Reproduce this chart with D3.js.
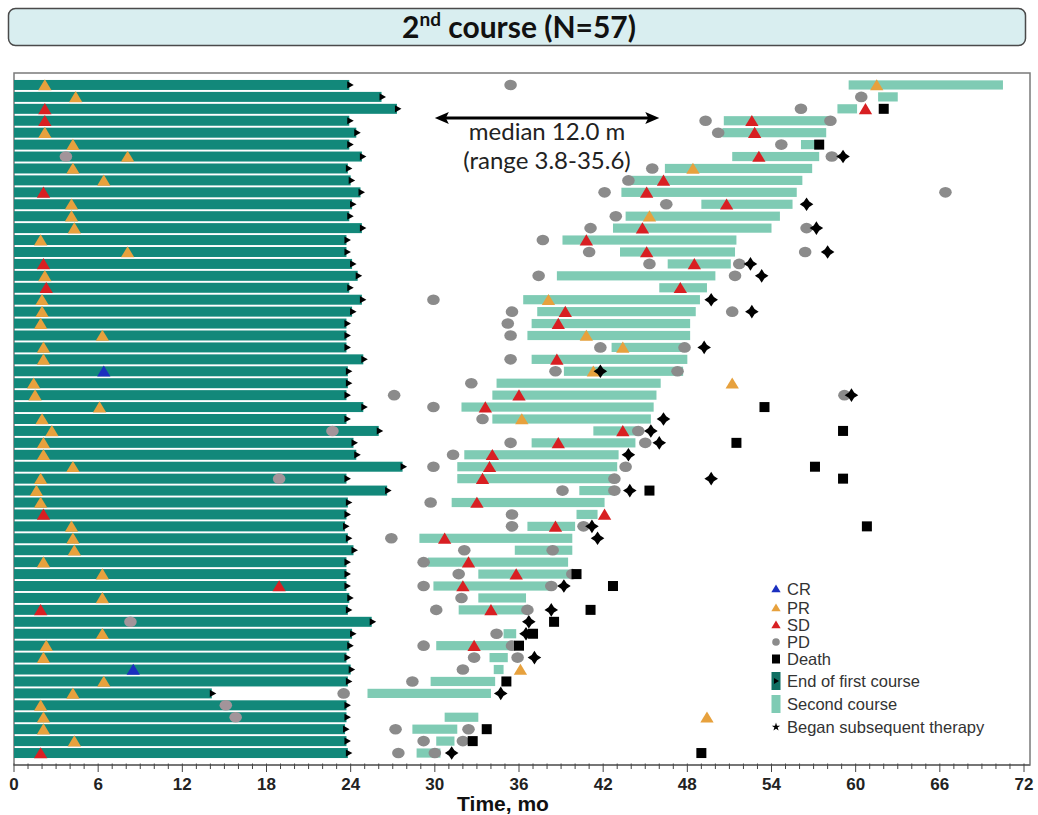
<!DOCTYPE html>
<html>
<head>
<meta charset="utf-8">
<script src="https://cdn.jsdelivr.net/npm/d3@7"></script>
<style>
  html, body { margin: 0; padding: 0; background: #ffffff; }
  svg { display: block; }
</style>
</head>
<body>
<svg id="chart" width="1038" height="815"></svg>
<script>
// Swimmer plot: first course (dark) and second course (light) per patient, with response events.

const patients = d3.range(1, 58);

// End of first course, months
const firstEnd = [
  23.9, 26.2, 27.3, 23.9, 24.4, 23.9, 24.8, 23.8, 24.0, 24.7,
  24.1, 23.9, 24.8, 23.7, 23.7, 24.1, 24.5, 23.9, 24.8, 24.1,
  23.7, 23.7, 23.7, 24.9, 23.8, 23.8, 23.7, 24.9, 23.7, 26.0,
  24.2, 24.4, 27.7, 23.7, 26.6, 23.8, 23.7, 23.6, 23.8, 24.2,
  23.7, 23.7, 23.7, 23.9, 23.8, 25.5, 24.1, 23.9, 23.7, 24.0,
  23.8, 14.1, 23.7, 23.7, 23.6, 23.7, 23.8
];

// Second course start / end, months (null = no second-course bar)
const secondStart = [
  59.5, 61.6, 58.7, 50.6, 50.5, 56.1, 51.2, 46.4, 44.0, 43.3,
  49.0, 43.6, 42.7, 39.1, 43.2, 46.6, 38.7, 46.0, 36.3, 37.3,
  36.9, 36.6, 42.6, 36.9, 39.2, 34.4, 34.1, 31.9, 34.1, 41.3,
  36.9, 32.1, 31.6, 31.6, 40.3, 31.2, 40.1, 36.6, 28.9, 35.7,
  29.5, 33.1, 29.9, 33.1, 31.7, null, 34.9, 30.1, 33.9, 34.2,
  29.7, 25.2, null, 30.7, 28.4, 30.1, 28.7
];
const secondEnd = [
  70.5, 63.0, 60.1, 58.2, 57.9, 57.4, 57.4, 56.9, 56.2, 55.8,
  55.5, 54.6, 54.0, 51.5, 51.4, 51.1, 50.0, 49.4, 48.9, 48.6,
  48.2, 48.2, 48.0, 48.0, 47.7, 46.1, 45.8, 45.6, 45.4, 44.6,
  44.3, 43.1, 43.0, 42.8, 42.8, 42.1, 41.6, 40.0, 39.8, 39.8,
  39.5, 39.6, 38.2, 36.5, 36.6, null, 35.8, 35.5, 35.2, 34.9,
  34.3, 34.0, null, 33.1, 31.6, 31.4, 30.4
];

// Events as [patient, month]
const crEvents = [[25, 6.4], [50, 8.5]];

const prEvents = [
  [1, 2.2], [1, 61.5], [2, 4.4], [5, 2.2], [6, 4.2], [7, 8.1], [8, 4.2], [8, 48.4],
  [9, 6.4], [11, 4.1], [12, 4.1], [12, 45.3], [13, 4.3], [14, 1.9], [15, 8.1],
  [17, 2.2], [19, 2.0], [19, 38.1], [20, 2.0], [21, 1.9], [22, 6.3], [22, 40.8],
  [23, 2.1], [23, 43.4], [24, 2.1], [25, 41.3], [26, 1.4], [26, 51.2], [27, 1.5],
  [28, 6.1], [29, 2.0], [29, 36.2], [30, 2.7], [31, 2.1], [32, 2.1], [33, 4.2],
  [34, 1.9], [35, 1.6], [36, 1.9], [38, 4.1], [39, 4.2], [40, 4.3], [41, 2.1],
  [42, 6.3], [44, 6.3], [47, 6.3], [48, 2.3], [49, 2.1], [50, 36.1], [51, 6.4],
  [52, 4.2], [53, 1.9], [54, 2.1], [54, 49.4], [55, 2.1], [56, 4.3]
];

const sdEvents = [
  [3, 2.2], [3, 60.7], [4, 2.2], [4, 52.6], [5, 52.8], [7, 53.1], [9, 46.3],
  [10, 2.1], [10, 45.1], [11, 50.8], [13, 44.8], [14, 40.8], [15, 45.1],
  [16, 2.1], [16, 48.5], [18, 2.3], [18, 47.5], [20, 39.3], [21, 38.8],
  [24, 38.7], [27, 36.0], [28, 33.6], [30, 43.4], [31, 38.8], [32, 34.1],
  [33, 33.9], [34, 33.4], [36, 33.0], [37, 2.1], [37, 42.1], [38, 38.6],
  [39, 30.7], [41, 32.4], [42, 35.8], [43, 18.9], [43, 32.0], [45, 1.9],
  [45, 34.0], [48, 32.8], [57, 1.9]
];

const pdEvents = [
  [1, 35.4], [2, 60.4], [3, 56.1], [4, 49.3], [4, 58.2], [5, 50.2], [6, 54.7],
  [7, 3.7], [7, 58.3], [8, 45.5], [9, 43.8], [10, 42.1], [10, 66.4], [11, 46.5],
  [12, 42.9], [13, 41.1], [13, 56.5], [14, 37.7], [15, 41.0], [15, 56.4],
  [16, 45.3], [16, 51.7], [17, 37.4], [17, 51.4], [19, 29.9], [20, 35.5],
  [20, 51.2], [21, 35.2], [22, 35.4], [23, 41.8], [23, 47.8], [24, 35.4],
  [25, 38.6], [25, 47.3], [26, 32.6], [27, 27.1], [27, 59.2], [28, 29.9],
  [29, 33.4], [30, 22.7], [30, 44.5], [31, 35.4], [31, 45.0], [32, 31.3],
  [33, 29.9], [33, 43.6], [34, 18.9], [34, 42.8], [35, 39.1], [35, 42.8],
  [36, 29.7], [37, 35.5], [38, 35.5], [38, 40.6], [39, 26.9], [40, 32.1],
  [40, 38.4], [41, 29.2], [42, 31.7], [42, 39.8], [43, 29.2], [43, 38.3],
  [44, 31.9], [45, 30.1], [45, 36.6], [46, 8.3], [47, 34.4], [48, 29.2],
  [48, 35.5], [49, 32.8], [49, 35.9], [50, 32.0], [51, 28.4], [52, 23.5],
  [53, 15.1], [54, 15.8], [55, 27.2], [55, 32.4], [56, 29.2], [56, 32.0],
  [57, 27.4], [57, 30.0]
];

const deathEvents = [
  [3, 62.0], [6, 57.4], [28, 53.5], [30, 59.1], [31, 51.5], [33, 57.1],
  [34, 59.1], [35, 45.3], [38, 60.8], [42, 40.1], [43, 42.7], [45, 41.1],
  [46, 38.5], [47, 37.0], [48, 36.0], [51, 35.1], [55, 33.7], [56, 32.7],
  [57, 49.0]
];

const therapyEvents = [
  [7, 59.1], [11, 56.5], [13, 57.2], [15, 58.0], [16, 52.5], [17, 53.3],
  [19, 49.7], [20, 52.6], [23, 49.2], [25, 41.8], [27, 59.7], [29, 46.3],
  [30, 45.4], [31, 46.0], [32, 43.8], [34, 49.7], [35, 43.9], [38, 41.2],
  [39, 41.6], [43, 39.2], [45, 38.3], [46, 36.7], [47, 36.5], [49, 37.1],
  [52, 34.7], [57, 31.2]
];

const xTickValues = d3.range(0, 73, 6);
const legendLabels = ["CR", "PR", "SD", "PD", "Death", "End of first course", "Second course", "Began subsequent therapy"];
const titleMain = "2";
const titleSup = "nd";
const titleRest = " course (N=57)";
const medianLines = ["median 12.0 m", "(range 3.8-35.6)"];
const medianSpan = [30, 46];
const xLabel = "Time, mo";

// ---- styling ----
const C = {
  first: "#12887a",
  second: "#7fcbb4",
  cr: "#1a2fbf",
  pr: "#e7a13d",
  sd: "#d81f22",
  pd: "#8b8b8b",
  pdFaded: "#a3949a",
  black: "#000000"
};

const svg = d3.select("#chart");
const frame = { left: 14, right: 1030, top: 73, bottom: 765 };

const x = d3.scaleLinear().domain([0, 72]).range([14, 1024]);
const y = d3.scaleBand().domain(patients).range([79, 759]).padding(0);
const cy = p => y(p) + y.bandwidth() / 2;

// Title banner
svg.append("rect")
  .attr("x", 8.5).attr("y", 8.5).attr("width", 1017).attr("height", 37)
  .attr("rx", 7).attr("ry", 7)
  .attr("fill", "#d9eef0").attr("stroke", "#4a4a4a").attr("stroke-width", 1.5);
const title = svg.append("text")
  .attr("x", 519).attr("y", 38)
  .attr("text-anchor", "middle")
  .attr("font-family", "Lato, 'Open Sans', sans-serif")
  .attr("font-weight", "bold")
  .attr("font-size", 30)
  .attr("fill", "#111");
title.append("tspan").text(titleMain);
title.append("tspan").attr("font-size", 19).attr("dy", -12).text(titleSup);
title.append("tspan").attr("dy", 12).text(titleRest);

// Plot frame
svg.append("rect")
  .attr("x", frame.left).attr("y", frame.top)
  .attr("width", frame.right - frame.left).attr("height", frame.bottom - frame.top)
  .attr("fill", "none").attr("stroke", "#7a7a7a").attr("stroke-width", 1.5);

const plot = svg.append("g");

// First course bars
plot.selectAll("rect.first").data(patients).join("rect")
  .attr("class", "first")
  .attr("x", x(0))
  .attr("y", p => cy(p) - 5)
  .attr("width", p => x(firstEnd[p - 1]) - x(0))
  .attr("height", 10)
  .attr("fill", C.first);

// Second course bars
const secondRows = patients.filter(p => secondStart[p - 1] != null);
plot.selectAll("rect.second").data(secondRows).join("rect")
  .attr("class", "second")
  .attr("x", p => x(secondStart[p - 1]))
  .attr("y", p => cy(p) - 4.6)
  .attr("width", p => x(secondEnd[p - 1]) - x(secondStart[p - 1]))
  .attr("height", 9.2)
  .attr("fill", C.second);

// End-of-first-course arrowheads
plot.selectAll("path.endArrow").data(patients).join("path")
  .attr("class", "endArrow")
  .attr("d", p => {
    const ex = x(firstEnd[p - 1]), yy = cy(p);
    return `M${ex - 2},${yy - 3.6}L${ex + 4.5},${yy}L${ex - 2},${yy + 3.6}Z`;
  })
  .attr("fill", C.black);

// Marker helpers
const triPath = (s) => `M0,${-s * 0.55}L${s * 0.58},${s * 0.42}L${-s * 0.58},${s * 0.42}Z`;
const starPath = (r, a) => `M0,${-r}L${a},${-a}L${r},0L${a},${a}L0,${r}L${-a},${a}L${-r},0L${-a},${-a}Z`;

function triangles(data, color, cls) {
  plot.selectAll("path." + cls).data(data).join("path")
    .attr("class", cls)
    .attr("transform", d => `translate(${x(d[1])},${cy(d[0]) + 0.5})`)
    .attr("d", triPath(11.5))
    .attr("fill", color);
}

// PD ellipses (lighter where they sit on the first-course bar)
plot.selectAll("ellipse.pd").data(pdEvents).join("ellipse")
  .attr("class", "pd")
  .attr("cx", d => x(d[1]))
  .attr("cy", d => cy(d[0]))
  .attr("rx", 6.3).attr("ry", 5.3)
  .attr("fill", d => d[1] < firstEnd[d[0] - 1] ? C.pdFaded : C.pd);

triangles(prEvents, C.pr, "pr");
triangles(sdEvents, C.sd, "sd");
triangles(crEvents, C.cr, "cr");

// Death squares
plot.selectAll("rect.death").data(deathEvents).join("rect")
  .attr("class", "death")
  .attr("x", d => x(d[1]) - 5)
  .attr("y", d => cy(d[0]) - 5)
  .attr("width", 10).attr("height", 10)
  .attr("fill", C.black);

// Subsequent therapy stars
plot.selectAll("path.tx").data(therapyEvents).join("path")
  .attr("class", "tx")
  .attr("transform", d => `translate(${x(d[1])},${cy(d[0])})`)
  .attr("d", starPath(6.8, 2.7))
  .attr("fill", C.black);

// Median duration annotation
const my = 118;
svg.append("line")
  .attr("x1", x(medianSpan[0]) + 8).attr("x2", x(medianSpan[1]) - 8)
  .attr("y1", my).attr("y2", my)
  .attr("stroke", C.black).attr("stroke-width", 3);
svg.append("path")
  .attr("d", `M${x(medianSpan[0])},${my}L${x(medianSpan[0]) + 14},${my - 6}L${x(medianSpan[0]) + 11},${my}L${x(medianSpan[0]) + 14},${my + 6}Z`)
  .attr("fill", C.black);
svg.append("path")
  .attr("d", `M${x(medianSpan[1])},${my}L${x(medianSpan[1]) - 14},${my - 6}L${x(medianSpan[1]) - 11},${my}L${x(medianSpan[1]) - 14},${my + 6}Z`)
  .attr("fill", C.black);
svg.selectAll("text.median").data(medianLines).join("text")
  .attr("class", "median")
  .attr("x", 547)
  .attr("y", (d, i) => 140 + i * 29)
  .attr("text-anchor", "middle")
  .attr("font-family", "Lato, 'Open Sans', sans-serif")
  .attr("font-size", 24)
  .attr("fill", "#222")
  .text(d => d);

// X axis
const axisG = svg.append("g").attr("transform", `translate(0,${frame.bottom})`);
axisG.append("line")
  .attr("x1", frame.left).attr("x2", frame.right)
  .attr("stroke", "#6a6a6a").attr("stroke-width", 1.5);
axisG.selectAll("line.minor").data(d3.range(0, 73, 1)).join("line")
  .attr("class", "minor")
  .attr("x1", d => x(d)).attr("x2", d => x(d))
  .attr("y1", -1.5).attr("y2", d => d % 6 === 0 ? 7 : 4)
  .attr("stroke", "#444").attr("stroke-width", 1);
axisG.selectAll("text.tick").data(xTickValues).join("text")
  .attr("class", "tick")
  .attr("x", d => x(d))
  .attr("y", 25)
  .attr("text-anchor", "middle")
  .attr("font-family", "'Liberation Sans', Arial, sans-serif")
  .attr("font-weight", "bold")
  .attr("font-size", 17)
  .attr("fill", "#222")
  .text(d => d);
svg.append("text")
  .attr("x", 503).attr("y", 811)
  .attr("text-anchor", "middle")
  .attr("font-family", "'Liberation Sans', Arial, sans-serif")
  .attr("font-weight", "bold")
  .attr("font-size", 21)
  .attr("fill", "#111")
  .text(xLabel);

// Legend
const lg = svg.append("g").attr("transform", "translate(776,0)");
const legendY = [589, 608, 625, 642, 659, 681, 704, 727];
const legendTextX = 11;
const items = lg.selectAll("g.item").data(legendLabels).join("g")
  .attr("class", "item")
  .attr("transform", (d, i) => `translate(0,${legendY[i]})`);
items.append("text")
  .attr("x", legendTextX).attr("y", 6)
  .attr("font-family", "'Liberation Sans', Arial, sans-serif")
  .attr("font-size", 16.5)
  .attr("fill", "#333")
  .text(d => d);
const sym = (i) => d3.select(items.nodes()[i]);
sym(0).append("path").attr("d", triPath(8)).attr("fill", C.cr);
sym(1).append("path").attr("d", triPath(8)).attr("fill", C.pr);
sym(2).append("path").attr("d", triPath(8)).attr("fill", C.sd);
sym(3).append("circle").attr("r", 3.8).attr("fill", C.pd);
sym(4).append("rect").attr("x", -4).attr("y", -4.5).attr("width", 8).attr("height", 9).attr("fill", C.black);
sym(5).append("rect").attr("x", -4.5).attr("y", -9).attr("width", 9).attr("height", 18).attr("fill", "#0f6f62");
sym(5).append("path").attr("d", "M-2,-3L3,0L-2,3Z").attr("fill", C.black);
sym(6).append("rect").attr("x", -4.5).attr("y", -9).attr("width", 9).attr("height", 18).attr("fill", C.second);
sym(7).append("path").attr("d", d3.symbol().type(d3.symbolStar).size(22)()).attr("fill", C.black);
</script>
</body>
</html>
